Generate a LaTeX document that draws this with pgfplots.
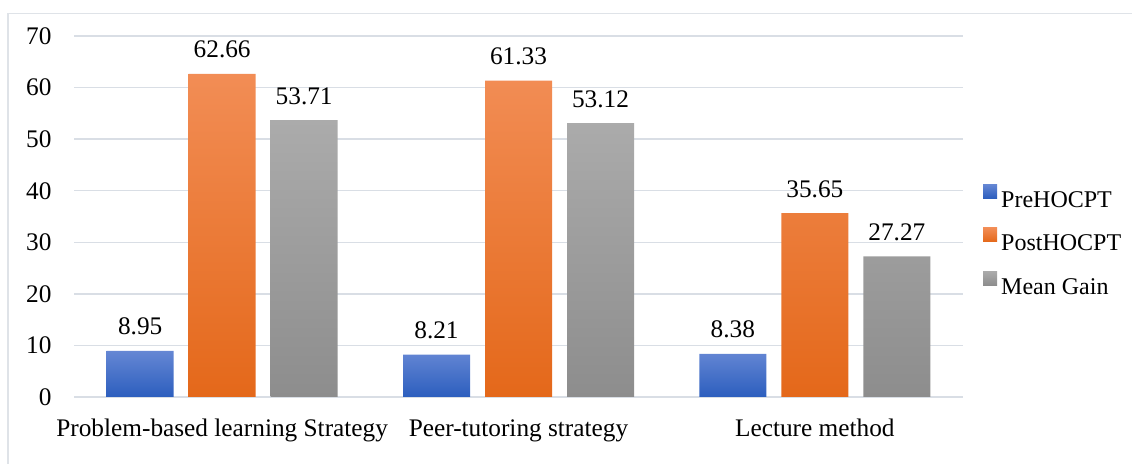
\documentclass[border=0pt]{standalone}
\usepackage{fontspec}
\setmainfont{Liberation Serif}
\usepackage{pgfplots}
\pgfplotsset{compat=1.18}

\definecolor{gridc}{HTML}{D9DEE5}
\definecolor{framec}{HTML}{DFE3E8}
\definecolor{blueT}{HTML}{6587D4}
\definecolor{blueB}{HTML}{2C5EBE}
\definecolor{orgT}{HTML}{F28D55}
\definecolor{orgB}{HTML}{E4681A}
\definecolor{grayT}{HTML}{ABABAB}
\definecolor{grayB}{HTML}{8D8D8D}

\pgfplotsset{
  sqlegend/.style={legend image code/.code={\path[##1] (0pt,1pt) rectangle (14pt,15pt);}}
}

\begin{document}
\begin{tikzpicture}[x=1pt,y=1pt]
\useasboundingbox (0,0) rectangle (1132,463);
\draw[framec, line width=1.5pt] (8,-5) -- (8,449.5) -- (1140,449.5);
\begin{axis}[
  at={(74pt,66pt)}, anchor=south west,
  scale only axis, width=889pt, height=361pt,
  xmin=-0.5, xmax=2.5, ymin=0, ymax=70,
  ytick={0,10,...,70},
  xtick={0,1,2},
  xticklabels={Problem-based learning Strategy, Peer-tutoring strategy, Lecture method},
  axis line style={draw=none},
  major tick length=0pt,
  ymajorgrids, grid style={gridc, line width=1.5pt},
  ybar=15pt, bar width=67pt,
  clip=false,
  tick label style={font=\fontsize{25.3}{30}\selectfont, text=black},
  yticklabel style={anchor=east, xshift=-19pt},
  xticklabel style={anchor=base, yshift=-40pt},
  /pgf/number format/assume math mode=true,
  nodes near coords={\pgfmathprintnumber[fixed,fixed zerofill,precision=2]{\pgfplotspointmeta}},
  every node near coord/.append style={font=\fontsize{25.3}{30}\selectfont, text=black, anchor=base, yshift=16pt},
  legend style={at={(1.0225,0.590)}, anchor=north west, draw=none, fill=none,
    inner sep=0pt, font=\fontsize{24}{28}\selectfont, row sep=20.5pt, column sep=4pt,
    nodes={inner sep=0pt, text height=16pt, text depth=0pt}},
  legend cell align=left,
]
\addplot[draw=none, top color=blueT, bottom color=blueB, sqlegend]
  coordinates {(0,8.95) (1,8.21) (2,8.38)};
\addplot[draw=none, top color=orgT, bottom color=orgB, sqlegend]
  coordinates {(0,62.66) (1,61.33) (2,35.65)};
\addplot[draw=none, top color=grayT, bottom color=grayB, sqlegend]
  coordinates {(0,53.71) (1,53.12) (2,27.27)};
\legend{PreHOCPT, PostHOCPT, Mean Gain}
\end{axis}
\end{tikzpicture}
\end{document}
